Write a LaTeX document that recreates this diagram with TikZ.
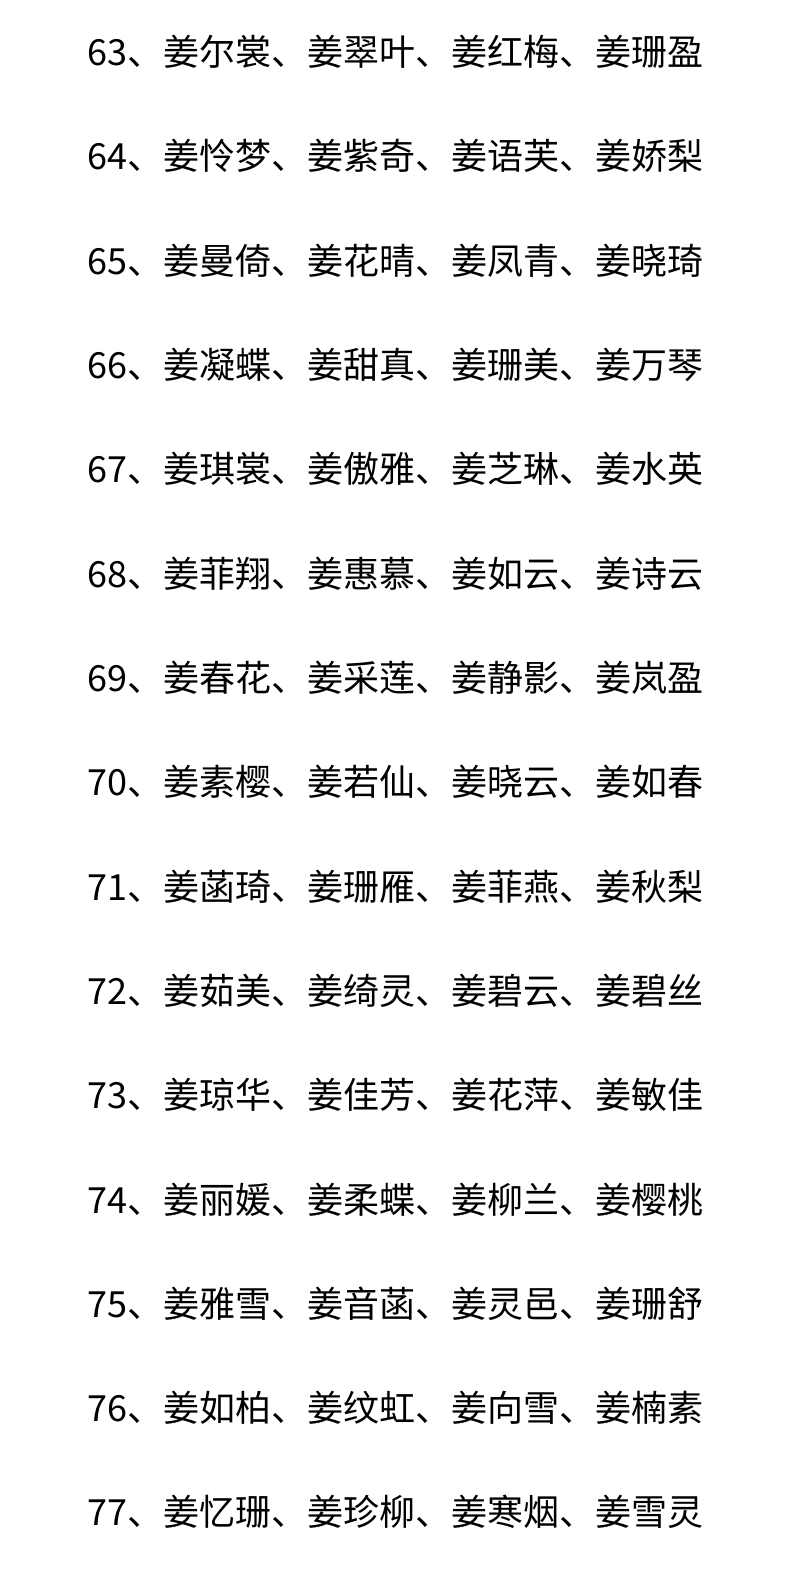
\documentclass[tikz,border=0pt]{standalone}
\usepackage{fontspec}
\newfontfamily\cjk{Noto Sans CJK SC}
\begin{document}
\begin{tikzpicture}[x=1pt,y=1pt,line/.style={anchor=west,inner sep=0pt,font=\cjk\fontsize{36}{40}\selectfont}]
\useasboundingbox[fill=white] (0,0) rectangle (800,-1576);
\foreach \t [count=\i from 0] in {
63、姜尔裳、姜翠叶、姜红梅、姜珊盈,
64、姜怜梦、姜紫奇、姜语芙、姜娇梨,
65、姜曼倚、姜花晴、姜凤青、姜晓琦,
66、姜凝蝶、姜甜真、姜珊美、姜万琴,
67、姜琪裳、姜傲雅、姜芝琳、姜水英,
68、姜菲翔、姜惠慕、姜如云、姜诗云,
69、姜春花、姜采莲、姜静影、姜岚盈,
70、姜素樱、姜若仙、姜晓云、姜如春,
71、姜菡琦、姜珊雁、姜菲燕、姜秋梨,
72、姜茹美、姜绮灵、姜碧云、姜碧丝,
73、姜琼华、姜佳芳、姜花萍、姜敏佳,
74、姜丽媛、姜柔蝶、姜柳兰、姜樱桃,
75、姜雅雪、姜音菡、姜灵邑、姜珊舒,
76、姜如柏、姜纹虹、姜向雪、姜楠素,
77、姜忆珊、姜珍柳、姜寒烟、姜雪灵}
  \node[line] (l\i) at (87,{-52-104.3*\i}) {\t};
\end{tikzpicture}
\end{document}
